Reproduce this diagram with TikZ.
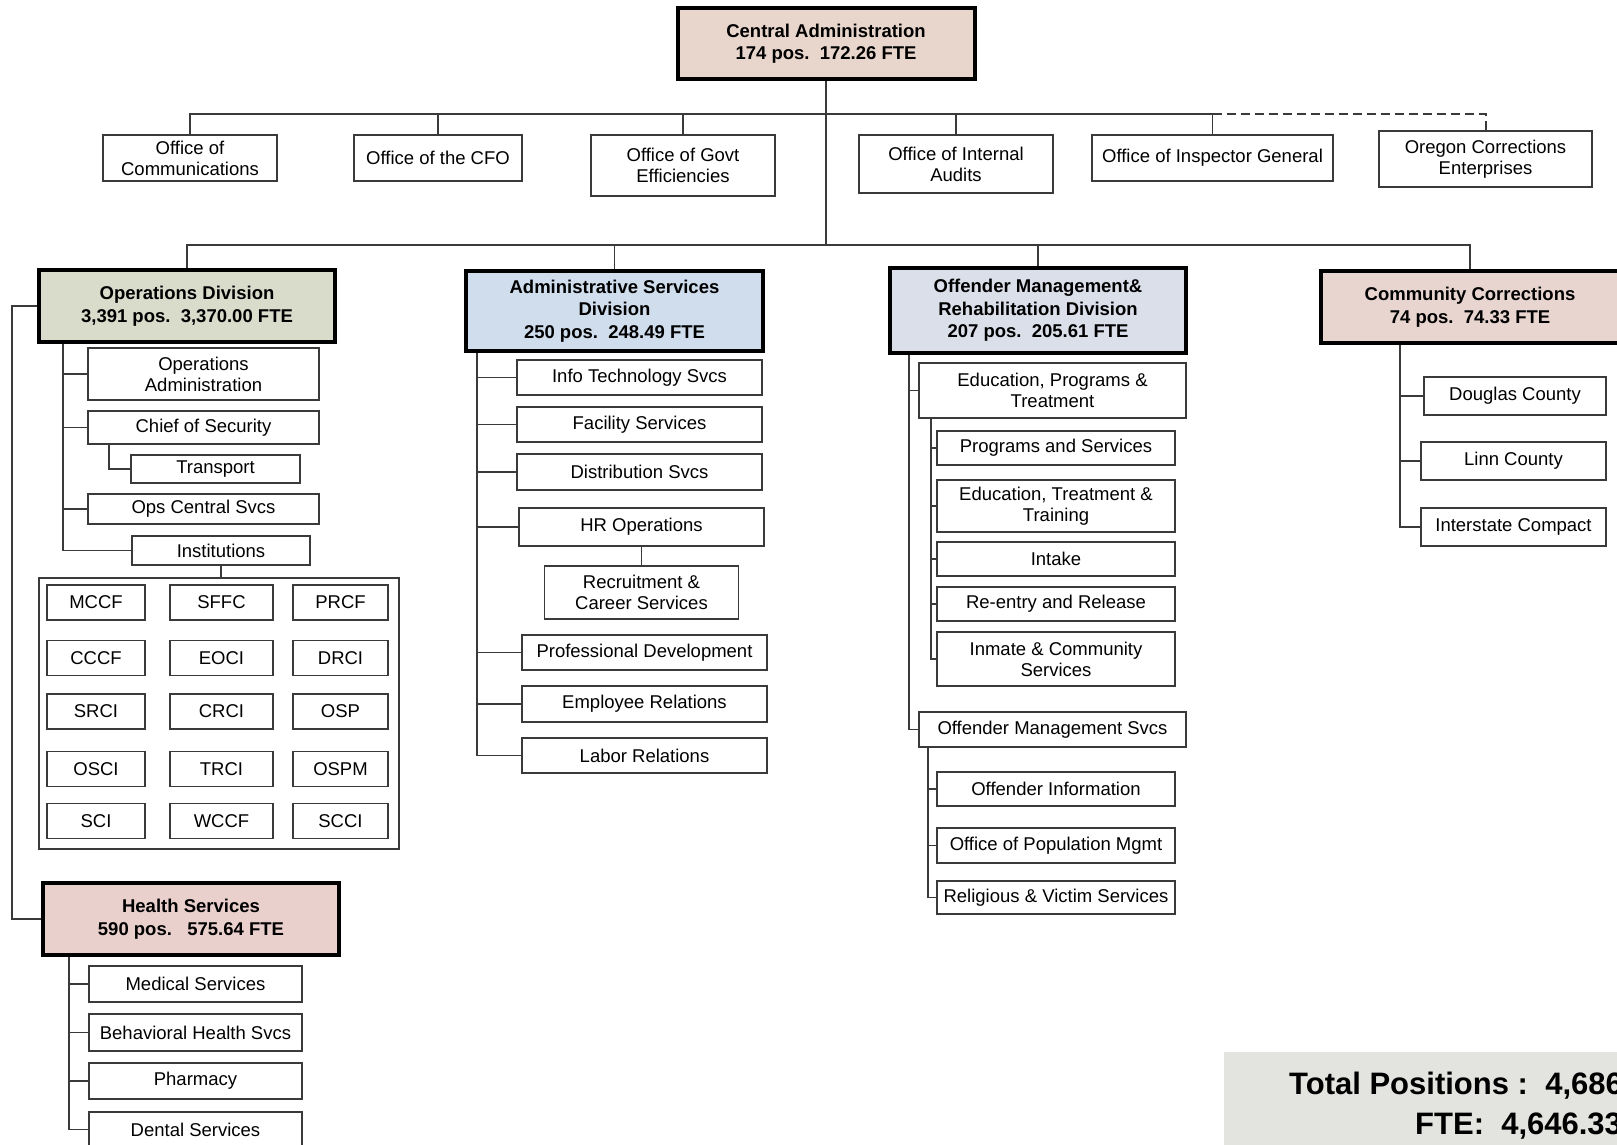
\documentclass[tikz,border=0pt]{standalone}
\usepackage{fontspec}
\setmainfont{Liberation Sans}

\definecolor{caFill}{HTML}{E8D6CC}
\definecolor{opsFill}{HTML}{D9DBCB}
\definecolor{admFill}{HTML}{CFDDEC}
\definecolor{omrFill}{HTML}{DADFEA}
\definecolor{ccFill}{HTML}{E8D5D0}
\definecolor{hsFill}{HTML}{E9D0CD}
\definecolor{totFill}{HTML}{E3E4DF}
\definecolor{lineGrey}{HTML}{3A3A3A}

\tikzset{
	unit/.style={draw=lineGrey, line width=1.4pt, fill=white, align=center, inner sep=1pt, font=\fontsize{18.5}{21}\selectfont},
	division/.style={draw=black, line width=4pt, align=center, inner sep=1pt, font=\fontsize{18.5}{22.5}\selectfont\bfseries},
	link/.style={draw=lineGrey, line width=1.6pt},
	wh/.style 2 args={minimum width=#1pt, minimum height=#2pt},
}

\begin{document}
\begin{tikzpicture}[x=1pt, y=-1pt]
		\useasboundingbox (0,0) rectangle (1617,1145);
		\clip (0,0) rectangle (1617,1145);
		
		% Central administration and its offices
		\node[division, fill=caFill, wh={297}{71}] (ca) at (826,43.5) {Central Administration\\174 pos.~~172.26 FTE};
		\node[unit, wh={174}{46}] (comm) at (190,158) {Office of\\Communications};
		\node[unit, wh={168}{46}] (cfo) at (438,158) {Office of the CFO};
		\node[unit, wh={184}{61}] (govt) at (683,165.5) {Office of Govt\\Efficiencies};
		\node[unit, wh={194}{58}] (audit) at (956,164) {Office of Internal\\Audits};
		\node[unit, wh={241}{46}] (oig) at (1212.5,158) {Office of Inspector General};
		\node[unit, wh={213}{56}] (oce) at (1485.5,159) {Oregon Corrections\\Enterprises};
		\coordinate (bus1) at (826,114);
		\coordinate (bus2) at (826,245);
		
		% divisions
		\node[division, fill=opsFill, wh={296}{72}] (ops) at (187,306) {Operations Division\\3,391 pos.~~3,370.00 FTE};
		\node[division, fill=admFill, wh={297}{80}] (adm) at (614.5,311) {Administrative Services\\Division\\250 pos.~~248.49 FTE};
		\node[division, fill=omrFill, wh={296}{85}] (omr) at (1038,310.5) {Offender Management\&\\Rehabilitation Division\\207 pos.~~205.61 FTE};
		\node[division, fill=ccFill, wh={298}{72}] (cc) at (1470,307) {Community Corrections\\74 pos.~~74.33 FTE};
		\node[division, fill=hsFill, wh={296}{72}] (health) at (191,919) {Health Services\\590 pos.~~~575.64 FTE};
		
		% operations
		\node[unit, wh={231}{52}] (opsadm) at (203.5,374) {Operations\\Administration};
		\node[unit, wh={231}{33}] (chief) at (203.5,427.5) {Chief of Security};
		\node[unit, wh={169}{28}] (transport) at (215.5,469) {Transport};
		\node[unit, wh={231}{30}] (central) at (203.5,509) {Ops Central Svcs};
		\node[unit, wh={178}{29}] (inst) at (221,550.5) {Institutions};
		\node[unit, wh={360}{271}] (instgrid) at (219,713.5) {};
		\foreach \y/\a/\b/\c in {602.5/MCCF/SFFC/PRCF, 658/CCCF/EOCI/DRCI, 711.5/SRCI/CRCI/OSP, 769/OSCI/TRCI/OSPM, 821/SCI/WCCF/SCCI}{
			\node[unit, wh={98}{35}] (\a) at (96,\y) {\a};
			\node[unit, wh={103}{35}] (\b) at (221.5,\y) {\b};
			\node[unit, wh={95}{35}] (\c) at (340.5,\y) {\c};
		}
		
		% health services
		\node[unit, wh={213}{36}] (med) at (195.5,984) {Medical Services};
		\node[unit, wh={213}{37}] (beh) at (195.5,1032.5) {Behavioral Health Svcs};
		\node[unit, wh={213}{36}] (pharm) at (195.5,1081) {Pharmacy};
		\node[unit, wh={213}{35}] (dental) at (195.5,1129.5) {Dental Services};
		
		% administrative services
		\node[unit, wh={245}{35}] (it) at (639.5,377.5) {Info Technology Svcs};
		\node[unit, wh={245}{35}] (fac) at (639.5,424.5) {Facility Services};
		\node[unit, wh={245}{36}] (dist) at (639.5,472) {Distribution Svcs};
		\node[unit, wh={245}{38}] (hr) at (641.5,527) {HR Operations};
		\node[unit, wh={194}{53}] (recruit) at (641.5,592.5) {Recruitment \&\\Career Services};
		\node[unit, wh={245}{35}] (profdev) at (644.5,652.5) {Professional Development};
		\node[unit, wh={245}{36}] (emprel) at (644.5,704) {Employee Relations};
		\node[unit, wh={245}{35}] (labor) at (644.5,755.5) {Labor Relations};
		
		% offender management & rehabilitation
		\node[unit, wh={267}{55}] (edu) at (1052.5,390.5) {Education, Programs \&\\Treatment};
		\node[unit, wh={238}{34}] (progs) at (1056,448) {Programs and Services};
		\node[unit, wh={238}{52}] (ett) at (1056,506) {Education, Treatment \&\\Training};
		\node[unit, wh={238}{34}] (intake) at (1056,559) {Intake};
		\node[unit, wh={238}{34}] (reentry) at (1056,604) {Re-entry and Release};
		\node[unit, wh={238}{54}] (inmate) at (1056,659) {Inmate \& Community\\Services};
		\node[unit, wh={267}{35}] (oms) at (1052.5,729.5) {Offender Management Svcs};
		\node[unit, wh={238}{34}] (offinfo) at (1056,789) {Offender Information};
		\node[unit, wh={238}{35}] (popmgmt) at (1056,845.5) {Office of Population Mgmt};
		\node[unit, wh={238}{33}] (relig) at (1056,897.5) {Religious \& Victim Services};
		
		% community corrections
		\node[unit, wh={182}{38}] (douglas) at (1515,396) {Douglas County};
		\node[unit, wh={185}{38}] (linn) at (1513.5,461) {Linn County};
		\node[unit, wh={185}{38}] (interstate) at (1513.5,527) {Interstate Compact};
		
		% connectors
		\draw[link] (ca.south) -- (bus2);
		\draw[link] (comm.north) |- (bus1) -| (oig.north);
		\foreach \k in {cfo,govt,audit} \draw[link] (bus1) -| (\k.north);
		\draw[link, line width=2pt, dash pattern=on 9pt off 5pt] (oig.north |- bus1) -| (oce.north);
		\draw[link] (ops.north) |- (bus2) -| (cc.north);
		\foreach \k in {adm,omr} \draw[link] (bus2) -| (\k.north);
		\draw[link] (ops.west) -- ++(-25,0) |- (health.west);
		
		\coordinate (opsspine) at ([xshift=-124pt]ops.south);
		\foreach \k in {opsadm,chief,central,inst} \draw[link] (opsspine) |- (\k.west);
		\draw[link] ([xshift=-94.5pt]chief.south) |- (transport.west);
		\draw[link] (inst.south) -- (inst.south |- instgrid.north);
		\coordinate (hsspine) at ([xshift=-122pt]health.south);
		\foreach \k in {med,beh,pharm,dental} \draw[link] (hsspine) |- (\k.west);
		\coordinate (admspine) at ([xshift=-137.5pt]adm.south);
		\foreach \k in {it,fac,dist,hr,profdev,emprel,labor} \draw[link] (admspine) |- (\k.west);
		\draw[link] (hr.south) -- (recruit.north);
		\coordinate (omrspine) at ([xshift=-129pt]omr.south);
		\foreach \k in {edu,oms} \draw[link] (omrspine) |- (\k.west);
		\coordinate (eduspine) at ([xshift=-121.5pt]edu.south);
		\foreach \k in {progs,ett,intake,reentry,inmate} \draw[link] (eduspine) |- (\k.west);
		\coordinate (omsspine) at ([xshift=-124.5pt]oms.south);
		\foreach \k in {offinfo,popmgmt,relig} \draw[link] (omsspine) |- (\k.west);
		\coordinate (ccspine) at ([xshift=-70pt]cc.south);
		\foreach \k in {douglas,linn,interstate} \draw[link] (ccspine) |- (\k.west);
		
		% totals
		\fill[totFill] (1224,1052) rectangle (1617,1145);
		\node[anchor=base west, inner sep=0pt, font=\fontsize{31}{36}\selectfont\bfseries] (totpos) at (1289,1094) {Total Positions :~~4,686};
		\node[anchor=base west, inner sep=0pt, font=\fontsize{31}{36}\selectfont\bfseries] (totfte) at (1415,1134) {FTE:~~4,646.33};
\end{tikzpicture}
\end{document}
